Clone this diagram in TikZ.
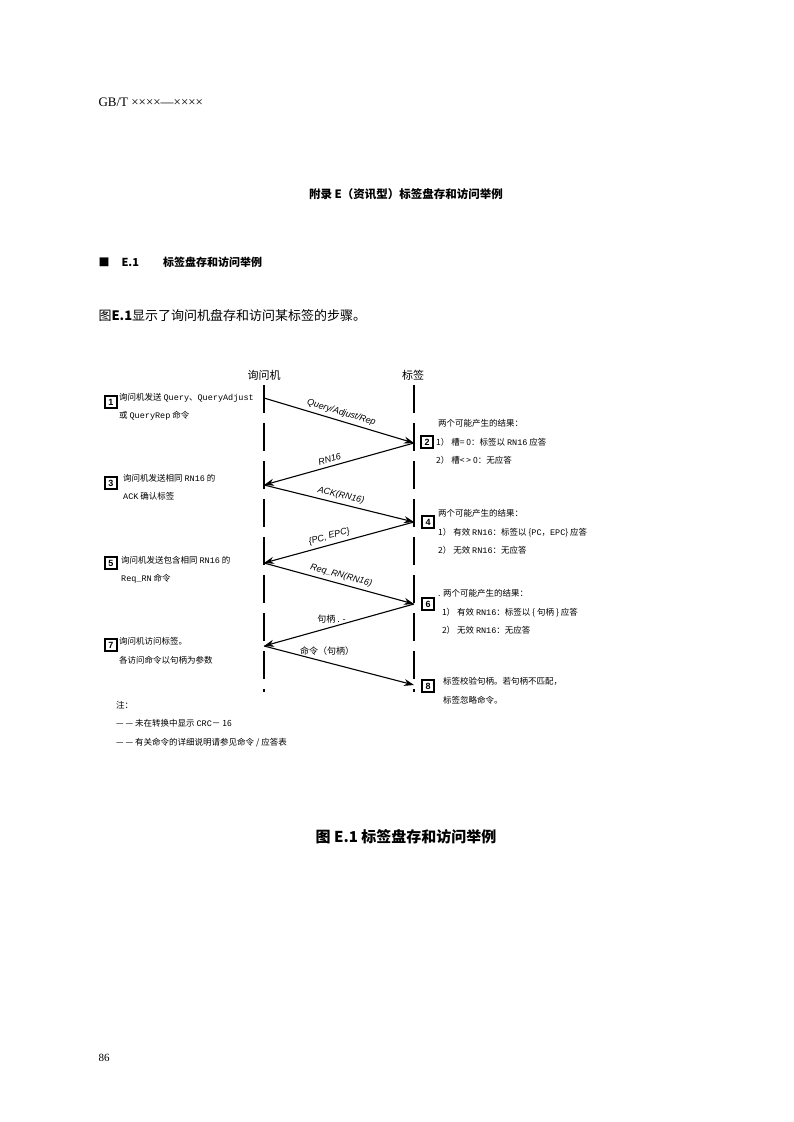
\documentclass[tikz,border=0pt]{standalone}
\usepackage{fontspec}
\setmainfont{Liberation Serif}
\newfontfamily\cjk{Noto Sans CJK SC}
\newfontfamily\arial{Liberation Sans}
\newfontfamily\mono{Liberation Mono}
\usetikzlibrary{arrows.meta}
\begin{document}
\begin{tikzpicture}[x=1pt,y=-1pt,
  life/.style={line width=1.8pt,dash pattern=on 28pt off 10pt},
  msg/.style={line width=1.1pt,-{Stealth[length=10pt,width=7pt]}},
  num/.style={draw,line width=1.5pt,minimum size=12pt,inner sep=0pt,font=\arial\bfseries\fontsize{9}{9}\selectfont},
  lbl/.style={font=\arial\itshape\fontsize{9}{10}\selectfont,sloped,above,inner sep=3.5pt},
  txt/.style={anchor=west,font=\cjk\fontsize{8.5}{18.5}\selectfont,align=left,inner sep=0pt}]
\useasboundingbox (0,0) rectangle (793,1122);
\node[anchor=west,font=\fontsize{13}{13}\selectfont] (hdr) at (95,102) {GB/T ××××—××××};
\node[font=\cjk\bfseries\fontsize{11.5}{12}\selectfont] (title) at (406,194) {附录 E（资讯型）标签盘存和访问举例};
\node[anchor=west,font=\cjk\bfseries\fontsize{11}{12}\selectfont] (sec) at (95,262) {■\hspace{12pt}E.1\hspace{24pt}标签盘存和访问举例};
\node[anchor=west,font=\cjk\fontsize{13}{13}\selectfont] (intro) at (95,316) {图\textbf{E.1}显示了询问机盘存和访问某标签的步骤。};
\node[font=\cjk\fontsize{11}{12}\selectfont] (hI) at (264,375) {询问机};
\node[font=\cjk\fontsize{11}{12}\selectfont] (hT) at (413,375) {标签};
\coordinate (i0) at (264,385); \coordinate (i9) at (264,692);
\coordinate (t0) at (414,385); \coordinate (t9) at (414,692);
\draw[life] (i0) -- (i9);
\draw[life] (t0) -- (t9);
\coordinate (a1) at (264,398); \coordinate (b1) at (414,443);
\coordinate (a2) at (264,485); \coordinate (b2) at (414,522);
\coordinate (a3) at (264,563); \coordinate (b3) at (414,604);
\coordinate (a4) at (264,646); \coordinate (b4) at (414,685);
\draw[msg] (a1) -- node[lbl,pos=0.5] {Query/Adjust/Rep} (b1);
\draw[msg] (b1) -- node[lbl,pos=0.55] {RN16} (a2);
\draw[msg] (a2) -- node[lbl,pos=0.5] {ACK(RN16)} (b2);
\draw[msg] (b2) -- node[lbl,pos=0.55] {\{PC, EPC\}} (a3);
\draw[msg] (a3) -- node[lbl,pos=0.5] {Req\_RN(RN16)} (b3);
\draw[msg] (b3) -- node[above,pos=0.55,inner sep=3pt,font=\cjk\fontsize{9}{10}\selectfont] {句柄 . -} (a4);
\draw[msg] (a4) -- node[above,pos=0.42,inner sep=6pt,font=\cjk\fontsize{9}{10}\selectfont] {命令（句柄）} (b4);
\node[num] (n1) at (111,402) {1};
\node[num] (n2) at (427,442) {2};
\node[num] (n3) at (111,483) {3};
\node[num] (n4) at (428,522) {4};
\node[num] (n5) at (111,563) {5};
\node[num] (n6) at (428,604) {6};
\node[num] (n7) at (111,645) {7};
\node[num] (n8) at (428,686) {8};
\node[txt] (s1) at (119,407) {询问机发送 {\mono Query}、{\mono QueryAdjust}\\或 {\mono QueryRep} 命令};
\node[txt] (s2) at (436,442) {\ 两个可能产生的结果：\\1） 槽= 0：标签以 {\mono RN16} 应答\\2） 槽< > 0：无应答};
\node[txt] (s3) at (123,487) {询问机发送相同 {\mono RN16} 的\\{\mono ACK} 确认标签};
\node[txt] (s4) at (438,532) {两个可能产生的结果：\\1） 有效 {\mono RN16}：标签以 \{{\mono PC}，{\mono EPC}\} 应答\\2） 无效 {\mono RN16}：无应答};
\node[txt] (s5) at (121,570) {询问机发送包含相同 {\mono RN16} 的\\{\mono Req\_RN} 命令};
\node[txt] (s6) at (438,612) {. 两个可能产生的结果：\\\ \ 1） 有效 {\mono RN16}：标签以 \{ 句柄 \} 应答\\\ \ 2） 无效 {\mono RN16}：无应答};
\node[txt] (s7) at (119,651) {询问机访问标签。\\各访问命令以句柄为参数};
\node[txt] (s8) at (443,691) {标签校验句柄。若句柄不匹配，\\标签忽略命令。};
\node[txt] (note) at (116,724) {注：\\— — 未在转换中显示 {\mono CRC}－ 16\\— — 有关命令的详细说明请参见命令 / 应答表};
\node[font=\cjk\bfseries\fontsize{15}{16}\selectfont] (cap) at (406,837) {图 E.1 标签盘存和访问举例};
\node[anchor=west,font=\fontsize{11}{11}\selectfont] (pg) at (95,1058) {86};
\end{tikzpicture}
\end{document}
